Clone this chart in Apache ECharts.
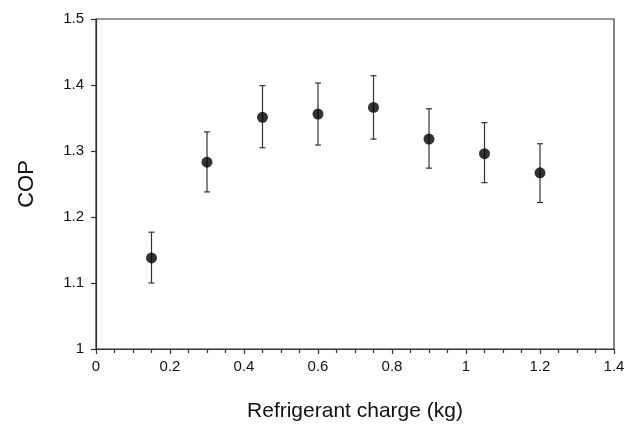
<!DOCTYPE html>
<html>
<head>
<meta charset="utf-8">
<script src="https://cdn.jsdelivr.net/npm/echarts@6/dist/echarts.min.js"></script>
<style>
  html, body { margin: 0; padding: 0; background: #fff; }
  #chart { width: 631px; height: 427px; }
</style>
</head>
<body>
<div id="chart"></div>
<script>
  // refrigerant charge (kg)
  var charge = [0.15, 0.3, 0.45, 0.6, 0.75, 0.9, 1.05, 1.2];
  var cop = [1.138, 1.283, 1.351, 1.356, 1.366, 1.318, 1.296, 1.267];
  var copLow = [1.100, 1.238, 1.305, 1.309, 1.318, 1.274, 1.252, 1.222];
  var copHigh = [1.177, 1.329, 1.399, 1.403, 1.414, 1.364, 1.343, 1.311];

  var myChart = echarts.init(document.getElementById('chart'));

  var points = charge.map(function (x, i) { return [x, cop[i]]; });
  var bars = charge.map(function (x, i) { return [x, copLow[i], copHigh[i]]; });

  var axisStyle = {color: '#333', width: 1.2};
  var labelFont = {fontFamily: 'Liberation Sans', fontSize: 15, color: '#111'};

  myChart.setOption({
    animation: false,
    grid: {left: 96, right: 17, top: 19, bottom: 78, show: true, borderColor: '#333', borderWidth: 1.2},
    xAxis: {
      type: 'value',
      min: 0, max: 1.4, interval: 0.2,
      name: 'Refrigerant charge (kg)',
      nameLocation: 'middle',
      nameGap: 52,
      nameTextStyle: {fontFamily: 'Liberation Sans', fontSize: 21, color: '#111'},
      axisLine: {show: true, onZero: false, lineStyle: axisStyle},
      axisTick: {show: true, inside: false, length: 5, lineStyle: axisStyle},
      minorTick: {show: true, splitNumber: 4, length: 4, lineStyle: axisStyle},
      splitLine: {show: false},
      axisLabel: Object.assign({margin: 10, formatter: function (v) { return +v.toFixed(1) + ''; }}, labelFont)
    },
    yAxis: {
      type: 'value',
      min: 1, max: 1.5, interval: 0.1,
      name: 'COP',
      nameLocation: 'middle',
      nameGap: 58,
      nameTextStyle: {fontFamily: 'Liberation Sans', fontSize: 22, color: '#111'},
      axisLine: {show: true, onZero: false, lineStyle: axisStyle},
      axisTick: {show: true, inside: false, length: 5, lineStyle: axisStyle},
      splitLine: {show: false},
      axisLabel: Object.assign({margin: 12, formatter: function (v) { return +v.toFixed(1) + ''; }}, labelFont)
    },
    series: [
      {
        type: 'custom',
        data: bars,
        renderItem: function (params, api) {
          var x = api.value(0);
          var lo = api.coord([x, api.value(1)]);
          var hi = api.coord([x, api.value(2)]);
          var cap = 3;
          var style = {stroke: '#333', lineWidth: 1.2};
          return {
            type: 'group',
            children: [
              {type: 'line', shape: {x1: lo[0], y1: lo[1], x2: hi[0], y2: hi[1]}, style: style},
              {type: 'line', shape: {x1: lo[0] - cap, y1: lo[1], x2: lo[0] + cap, y2: lo[1]}, style: style},
              {type: 'line', shape: {x1: hi[0] - cap, y1: hi[1], x2: hi[0] + cap, y2: hi[1]}, style: style}
            ]
          };
        },
        z: 1
      },
      {
        type: 'scatter',
        data: points,
        symbol: 'circle',
        symbolSize: 11,
        itemStyle: {color: '#000'},
        z: 2
      }
    ]
  });
</script>
</body>
</html>
